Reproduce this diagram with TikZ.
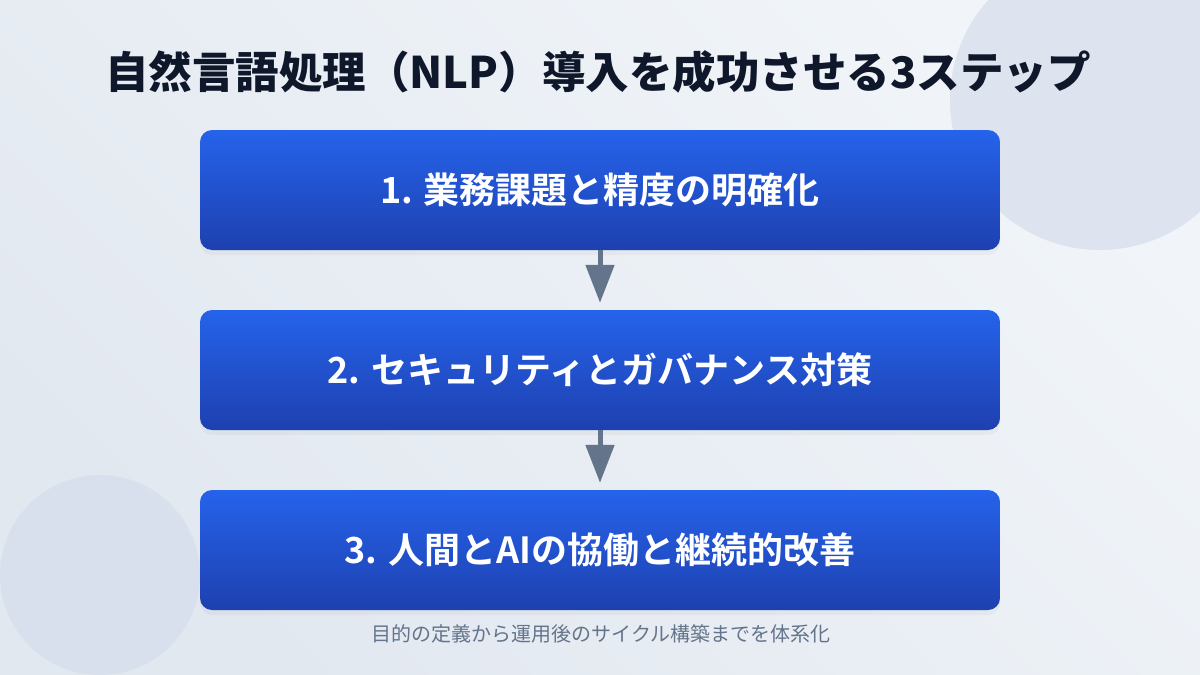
\documentclass[tikz,border=0pt]{standalone}
\usepackage{fontspec}
\setmainfont{Noto Sans CJK JP}[BoldFont={Noto Sans CJK JP Bold}]
\newfontfamily\titlefont{Noto Sans CJK JP Black}
\usetikzlibrary{arrows.meta,shadows}

\definecolor{bgtop}{HTML}{F1F5F9}
\definecolor{bgbot}{HTML}{E2E8F0}
\definecolor{blobcol}{HTML}{D5DEEC}
\definecolor{titlecol}{HTML}{0F172A}
\definecolor{stepTop}{HTML}{2563EB}
\definecolor{stepBot}{HTML}{1E40AF}
\definecolor{arrowcol}{HTML}{64748B}

\tikzset{
    stepbox/.style={rounded corners=12pt, minimum width=800pt, minimum height=120pt,
        top color=stepTop, bottom color=stepBot, text=white, font=\bfseries\fontsize{36}{42}\selectfont,
        drop shadow={opacity=0.07, shadow xshift=0pt, shadow yshift=-5pt}},
    flow/.style={draw=arrowcol, line width=5pt, -{Triangle[length=38pt, width=28pt]}, shorten >=7pt}
}

\begin{document}
\begin{tikzpicture}[x=1pt, y=-1pt]
    % Background
    \shade[left color=bgtop, right color=bgbot, shading angle=-45] (0,0) rectangle (1200,675);
    \useasboundingbox (0,0) rectangle (1200,675);
    \fill[blobcol, opacity=0.7] (1100,100) circle (150);
    \fill[blobcol, opacity=0.7] (100,575) circle (100);

    % Title
    \node[font=\titlefont\fontsize{43.5}{50}\selectfont, text=titlecol] (title) at (598,72) {自然言語処理（NLP）導入を成功させる3ステップ};

    % Steps
    \node[stepbox] (step1) at (600,190) {1. 業務課題と精度の明確化};
    \node[stepbox] (step2) at (600,370) {2. セキュリティとガバナンス対策};
    \node[stepbox] (step3) at (600,550) {3. 人間とAIの協働と継続的改善};

    % Arrows
    \draw[flow] (step1.south) -- (step2.north);
    \draw[flow] (step2.south) -- (step3.north);

    % Caption
    \node[font=\fontsize{20}{24}\selectfont, text=arrowcol] (caption) at (601,634) {目的の定義から運用後のサイクル構築までを体系化};
\end{tikzpicture}
\end{document}
